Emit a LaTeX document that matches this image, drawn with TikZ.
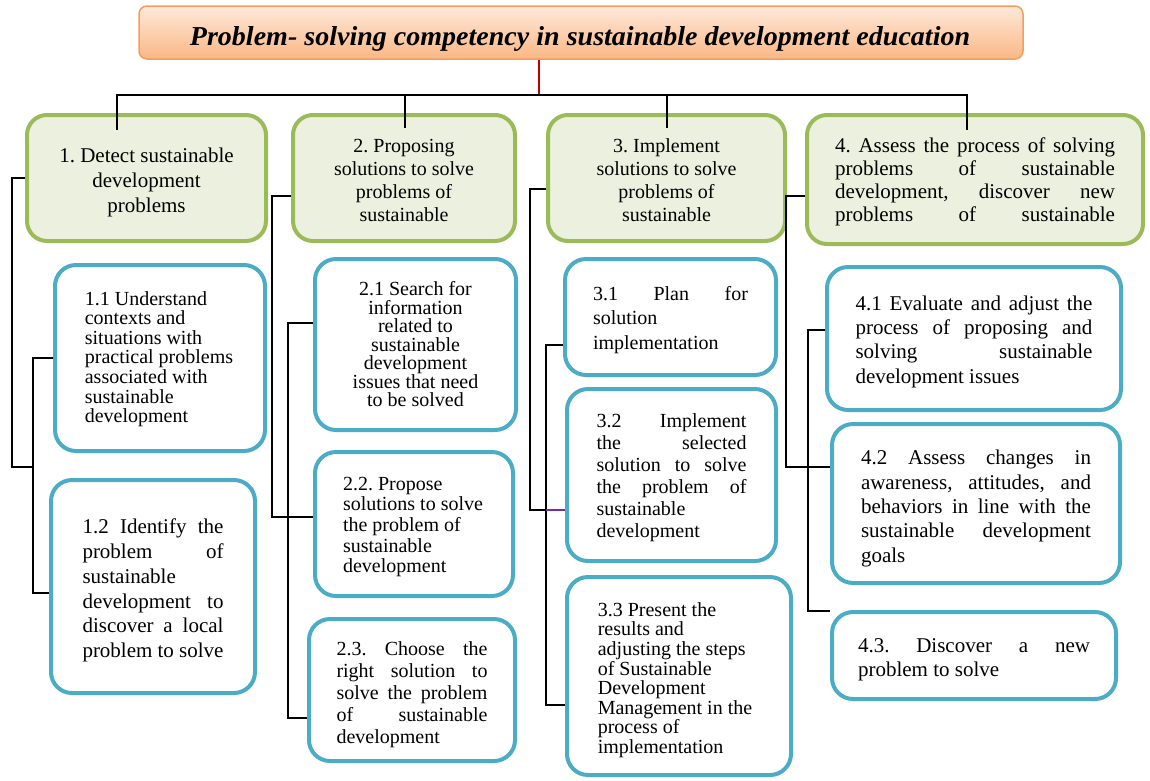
\documentclass[tikz,border=0pt]{standalone}
\usepackage{fontspec}
\usepackage{graphicx}
\setmainfont{Liberation Serif}
\usetikzlibrary{calc}
\tolerance=10000
\hbadness=10000
\frenchspacing
\definecolor{gfill}{HTML}{EBF1DE}
\definecolor{gline}{HTML}{9BBB59}
\definecolor{bline}{HTML}{4BACC6}
\definecolor{ttop}{HTML}{FEE9DA}
\definecolor{tbot}{HTML}{FAB784}
\definecolor{tline}{HTML}{F59D5E}
\definecolor{redl}{HTML}{C00000}
\definecolor{purp}{HTML}{7030A0}
\begin{document}
\begin{tikzpicture}[x=1pt,y=-1pt,
  conn/.style={line width=1.6pt, black},
  gbox/.style={draw=gline, fill=gfill, line width=4pt, rounded corners=20pt, inner sep=0pt},
  bbox/.style={draw=bline, fill=white, line width=4pt, rounded corners=21pt, inner sep=0pt},
  txt/.style={inner sep=0pt},
  fnt/.style 2 args={font=\fontsize{#1}{#2}\selectfont}]
\useasboundingbox (0,0) rectangle (1150,780);

% title
\node[draw=tline, line width=1.5pt, rounded corners=8pt, top color=ttop, bottom color=tbot,
      minimum width=884pt, minimum height=53pt] (ttlbox) at (581,32.5) {};
\node[anchor=base, inner sep=0pt] (ttl) at (580,45)
  {\resizebox{780pt}{19pt}{\bfseries\itshape Problem- solving competency in sustainable development education}};

% boxes
\node[gbox, minimum width=239pt, minimum height=126pt] (b1) at (146.5,178) {};
\node[gbox, minimum width=222pt, minimum height=126pt] (b2) at (404,178) {};
\node[gbox, minimum width=237pt, minimum height=126pt] (b3) at (666.5,178) {};
\node[gbox, minimum width=336pt, minimum height=129pt] (b4) at (975,179.5) {};
\node[bbox, minimum width=210pt, minimum height=186pt] (b11) at (160,358) {};
\node[bbox, minimum width=204pt, minimum height=213pt] (b12) at (153,586.5) {};
\node[bbox, minimum width=201pt, minimum height=171pt] (b21) at (415.5,344.5) {};
\node[bbox, minimum width=198pt, minimum height=144pt] (b22) at (414,524) {};
\node[bbox, minimum width=206pt, minimum height=142pt] (b23) at (412,690) {};
\node[bbox, minimum width=211pt, minimum height=116pt] (b31) at (670.5,317) {};
\node[bbox, minimum width=209pt, minimum height=172pt] (b32) at (671.5,475) {};
\node[bbox, minimum width=224pt, minimum height=198pt] (b33) at (679,676) {};
\node[bbox, minimum width=294pt, minimum height=143pt] (b41) at (974,338.5) {};
\node[bbox, minimum width=288pt, minimum height=159pt] (b42) at (976,503.5) {};
\node[bbox, minimum width=284pt, minimum height=87pt] (b43) at (974,655.5) {};

% texts
\node[txt, fnt={21}{25}, align=center] (t1) at ([yshift=-4pt]b1.center)
  {1. Detect sustainable\\development\\problems};
\node[txt, fnt={20}{23}, align=center] (t2) at ([yshift=-2pt]b2.center)
  {2. Proposing\\solutions to solve\\problems of\\sustainable};
\node[txt, fnt={20}{23}, align=center] (t3) at ([yshift=-2pt]b3.center)
  {3. Implement\\solutions to solve\\problems of\\sustainable};
\node[txt, fnt={21}{23}, align=justify, text width=280pt] (t4) at ([yshift=-2pt]b4.center)
  {4. Assess the process of solving\linebreak problems of sustainable\linebreak development, discover new\linebreak \makebox[280pt][s]{problems of sustainable}};

\node[txt, fnt={20}{19.6}, align=left] (t11) at ([xshift=-1pt,yshift=-1pt]b11.center)
  {1.1 Understand\\contexts and\\situations with\\practical problems\\associated with\\sustainable\\development};
\node[txt, fnt={21}{24.8}, align=justify, text width=141pt] (t12) at ([yshift=-4pt]b12.center)
  {1.2 Identify the\linebreak problem of\linebreak sustainable\linebreak development to\linebreak discover a local\linebreak problem to solve};

\node[txt, fnt={20}{18.5}, align=center] (t21) at ([yshift=0pt]b21.center)
  {2.1 Search for\\information\\related to\\sustainable\\development\\issues that need\\to be solved};
\node[txt, fnt={20}{20.7}, align=left] (t22) at ([xshift=-1pt,yshift=-3pt]b22.center)
  {2.2. Propose\\solutions to solve\\the problem of\\sustainable\\development};
\node[txt, fnt={20}{22}, align=justify, text width=151pt] (t23) at ([yshift=-5pt]b23.center)
  {2.3. Choose the\linebreak right solution to\linebreak solve the problem\linebreak of sustainable\linebreak development};

\node[txt, fnt={20}{24.5}, align=justify, text width=155pt] (t31) at ([yshift=-3pt]b31.center)
  {3.1 Plan for\linebreak solution\linebreak implementation};
\node[txt, fnt={20}{22}, align=justify, text width=150pt] (t32) at ([yshift=-3pt]b32.center)
  {3.2 Implement\linebreak the selected\linebreak solution to solve\linebreak the problem of\linebreak sustainable\linebreak development};
\node[txt, fnt={20}{19.6}, align=left] (t33) at ([xshift=-4pt,yshift=-4pt]b33.center)
  {3.3 Present the\\results and\\adjusting the steps\\of Sustainable\\Development\\Management in the\\process of\\implementation};

\node[txt, fnt={21}{24.3}, align=justify, text width=237pt] (t41) at ([yshift=-3pt]b41.center)
  {4.1 Evaluate and adjust the\linebreak process of proposing and\linebreak solving sustainable\linebreak development issues};
\node[txt, fnt={21}{24.3}, align=justify, text width=230pt] (t42) at ([yshift=-5pt]b42.center)
  {4.2 Assess changes in\linebreak awareness, attitudes, and\linebreak behaviors in line with the\linebreak sustainable development\linebreak goals};
\node[txt, fnt={21}{24}, align=justify, text width=232pt] (t43) at ([yshift=-4pt]b43.center)
  {4.3. Discover a new\linebreak problem to solve};

% top connectors
\coordinate (tj) at (539,95);
\coordinate (hl) at (117,95);
\coordinate (hr) at (967,95);
\coordinate (v2) at (405,95);
\coordinate (v3) at (667,95);
\draw[line width=1.6pt, redl] (tj |- ttlbox.south) -- (tj);
\draw[conn] ($(hl |- b1.north)+(0,17)$) -- (hl) -- (hr) -- ($(hr |- b4.north)+(0,17)$);
\draw[conn] (v2) -- ($(v2 |- b2.north)+(0,15)$);
\draw[conn] (v3) -- ($(v3 |- b3.north)+(0,15)$);

% column 1 connectors
\coordinate (s1) at (12,467);
\coordinate (j1) at (33,467);
\draw[conn] (b1.west) -| (s1) -- (j1);
\draw[conn] (b11.west) -| (j1) |- ([yshift=-6.5pt]b12.west);

% column 2 connectors
\coordinate (s2) at (272,517);
\coordinate (j2) at (288,517);
\draw[conn] ([yshift=-18pt]b2.west) -| (s2) -- (j2);
\draw[conn] ([yshift=21.5pt]b21.west) -| (j2) |- ([yshift=-28pt]b23.west);
\draw[conn] (j2) -- ([yshift=7pt]b22.west);

% column 3 connectors
\coordinate (s3) at (530,510);
\coordinate (j3) at (546,510);
\draw[conn] ([yshift=-11pt]b3.west) -| (s3) -- (j3);
\draw[conn] ([yshift=-28pt]b31.west) -| (j3) |- ([yshift=-29pt]b33.west);
\draw[line width=1.6pt, purp] (j3) -- ([yshift=-35pt]b32.west);

% column 4 connectors
\coordinate (s4) at (786,467);
\coordinate (j4) at (808,467);
\draw[conn] ([yshift=-16.5pt]b4.west) -| (s4) -- (j4);
\draw[conn] ([yshift=8.5pt]b41.west) -| (j4) |- ([yshift=44.5pt]b43.west);
\draw[conn] (j4) -- ([yshift=36.5pt]b42.west);
\end{tikzpicture}
\end{document}
